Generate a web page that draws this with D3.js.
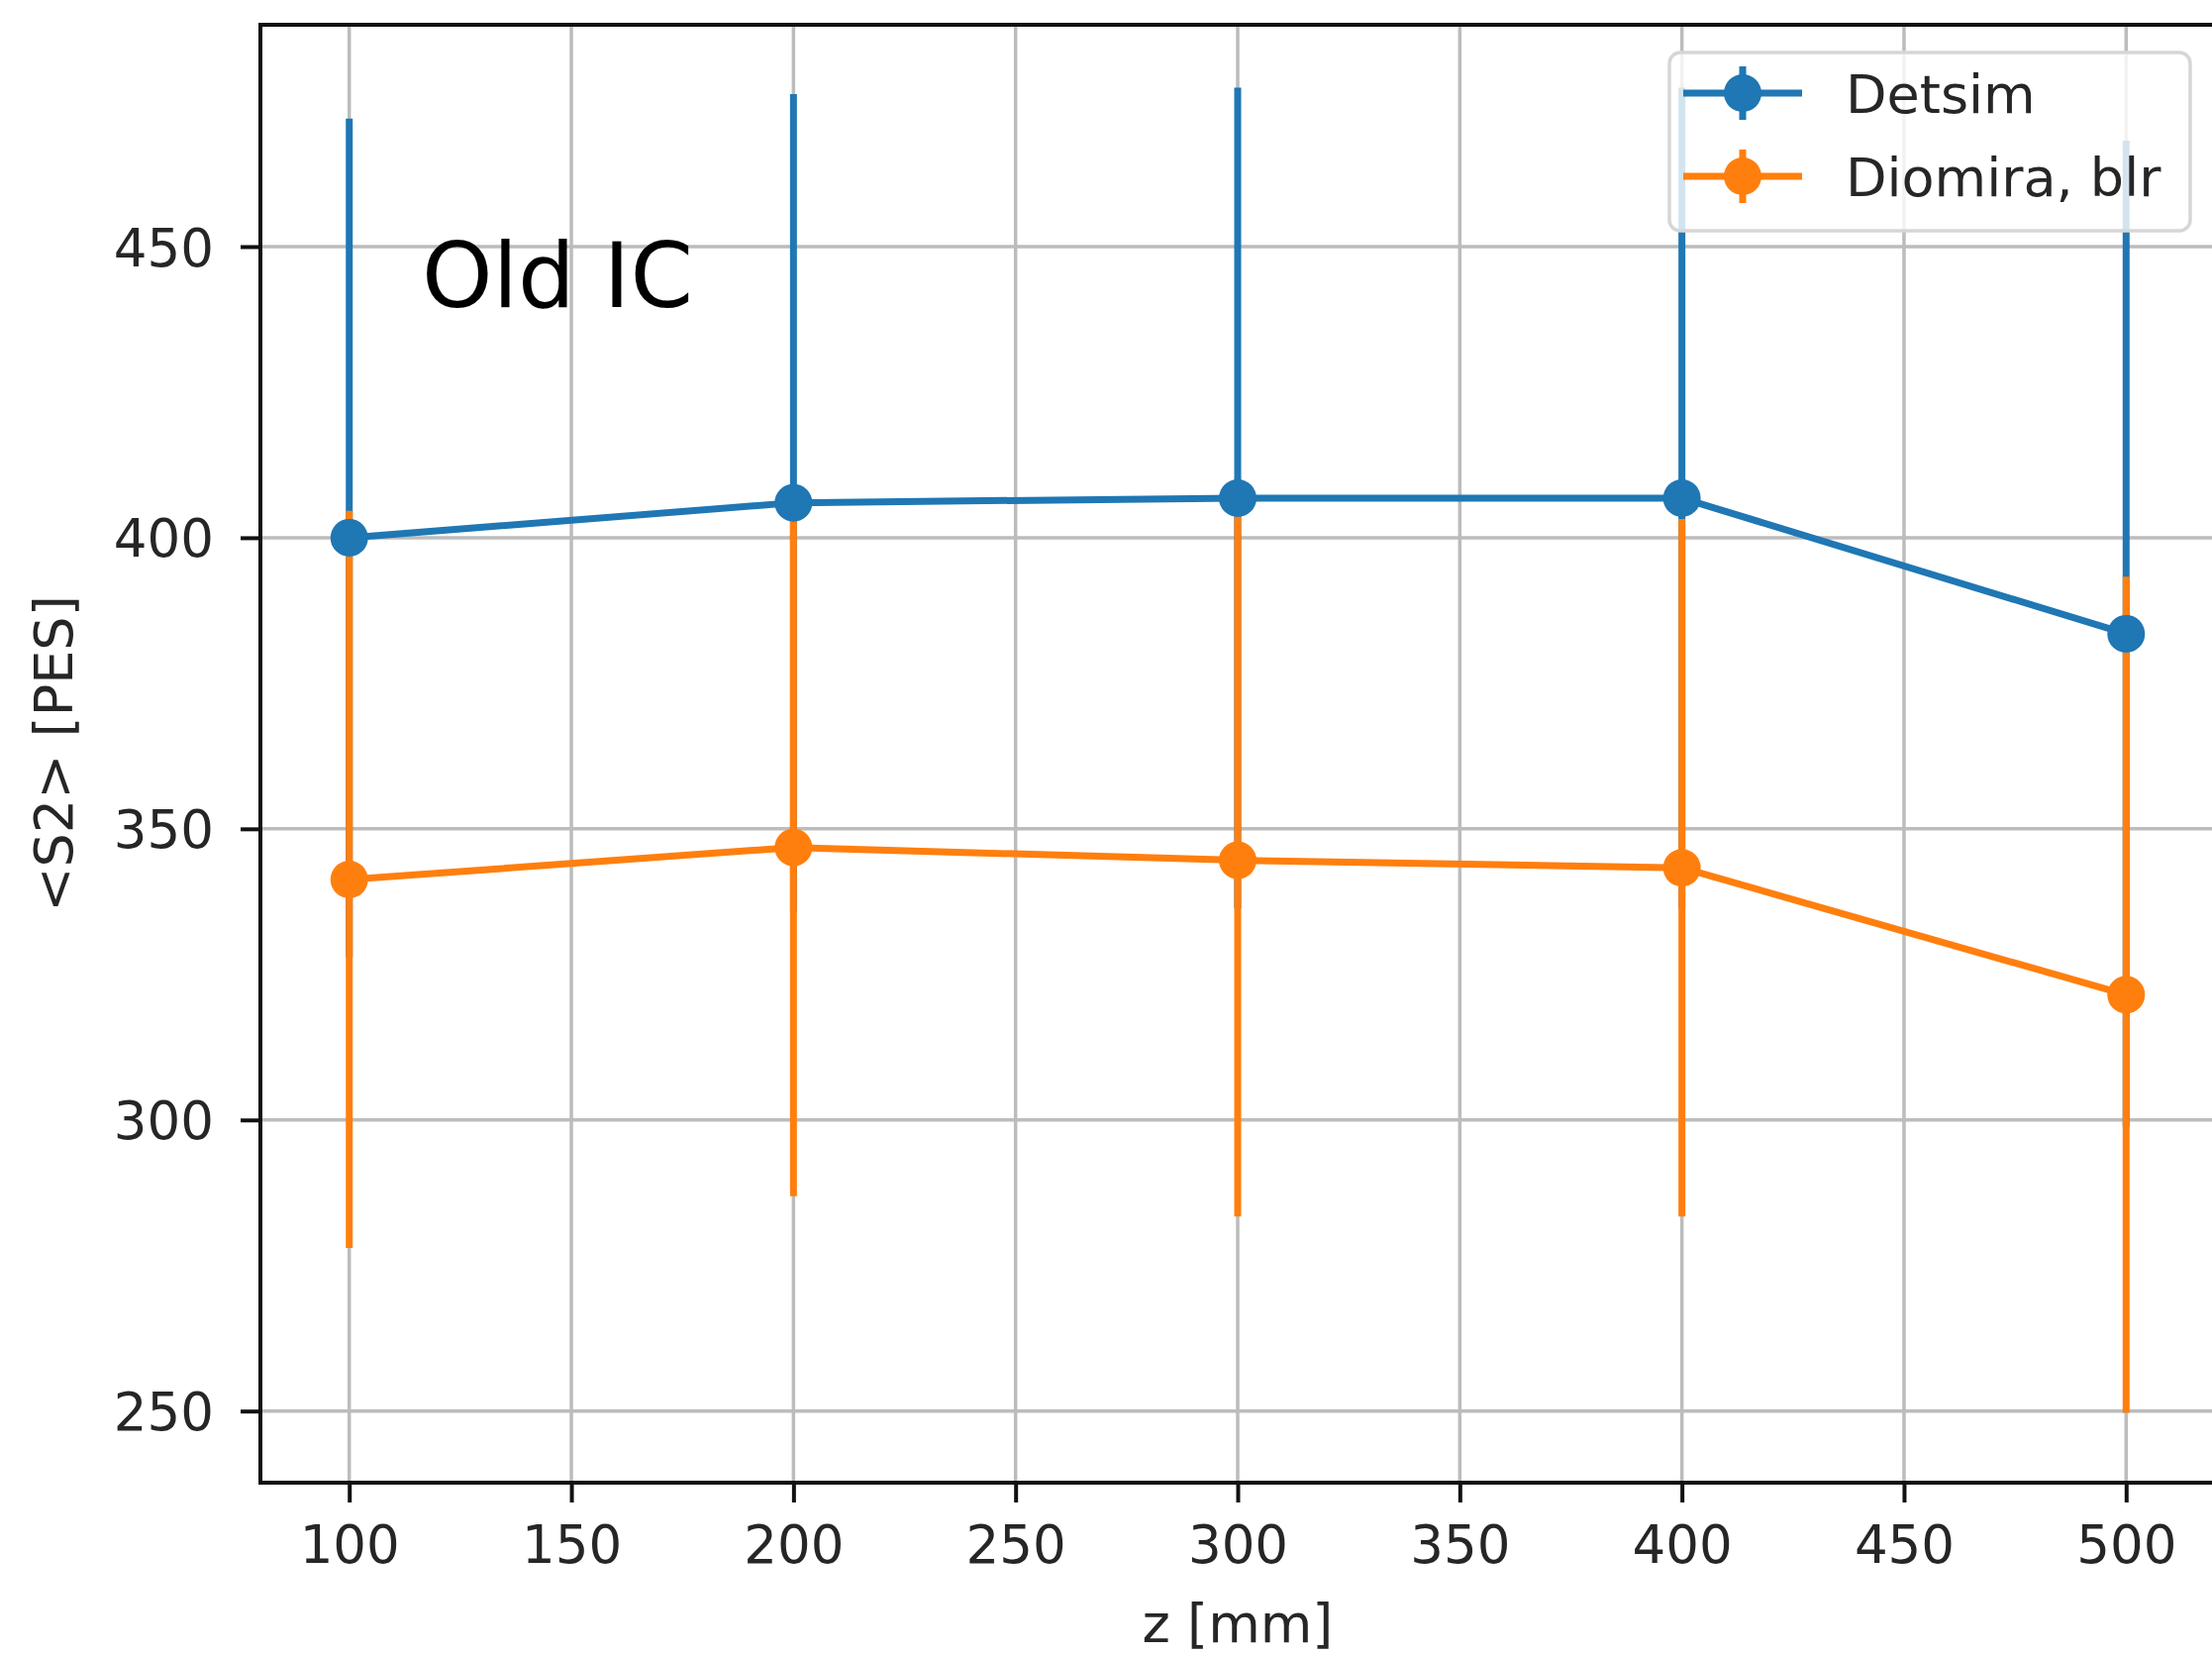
<!DOCTYPE html>
<html>
<head>
<meta charset="utf-8">
<script src="https://cdn.jsdelivr.net/npm/d3@7"></script>
<style>
  html, body { margin: 0; padding: 0; background: #ffffff; }
  svg { display: block; }
  text { font-family: "DejaVu Sans", sans-serif; fill: #262626; }
</style>
</head>
<body>
<script>
// ---------------- data ----------------
const zValues = [100, 200, 300, 400, 500];
const seriesNames = ["Detsim", "Diomira, blr"];
const detsimValues = [400.0, 406.0, 406.8, 406.8, 383.5];
const detsimErrors = [72.0, 70.2, 70.5, 70.5, 84.7];
const diomiraValues = [341.3, 346.8, 344.6, 343.3, 321.5];
const diomiraErrors = [63.3, 59.9, 61.2, 59.9, 71.8];
const xTickValues = [100, 150, 200, 250, 300, 350, 400, 450, 500];
const yTickValues = [250, 300, 350, 400, 450];
const xAxisLabel = "z [mm]";
const yAxisLabel = "<S2> [PES]";
const annotationText = "Old IC";

// ---------------- layout ----------------
const W = 2234, H = 1671;
const plot = { left: 263, right: 2237, top: 25, bottom: 1497 };
const colors = ["#1f77b4", "#ff7f0e"];
const fs = 53;

const series = [
  { name: seriesNames[0], values: detsimValues, errors: detsimErrors, color: colors[0] },
  { name: seriesNames[1], values: diomiraValues, errors: diomiraErrors, color: colors[1] }
];

const x = d3.scaleLinear().domain([80, 520]).range([plot.left, plot.right]);
const y = d3.scaleLinear().domain([237.7, 488.1]).range([plot.bottom, plot.top]);

const svg = d3.select("body").append("svg")
  .attr("width", W).attr("height", H)
  .attr("viewBox", `0 0 ${W} ${H}`);

svg.append("rect").attr("width", W).attr("height", H).attr("fill", "#ffffff");

// gridlines
const grid = svg.append("g");
grid.selectAll("line.gx").data(xTickValues).join("line")
  .attr("x1", d => x(d)).attr("x2", d => x(d))
  .attr("y1", plot.top).attr("y2", plot.bottom)
  .attr("stroke", "#bcbcbc").attr("stroke-width", 3.5);
grid.selectAll("line.gy").data(yTickValues).join("line")
  .attr("x1", plot.left).attr("x2", plot.right)
  .attr("y1", d => y(d)).attr("y2", d => y(d))
  .attr("stroke", "#bcbcbc").attr("stroke-width", 3.5);

// error bars (all below lines)
series.forEach(s => {
  svg.append("g").selectAll("line").data(zValues).join("line")
    .attr("x1", d => x(d)).attr("x2", d => x(d))
    .attr("y1", (d, i) => y(s.values[i] - s.errors[i]))
    .attr("y2", (d, i) => y(s.values[i] + s.errors[i]))
    .attr("stroke", s.color).attr("stroke-width", 7);
});

// lines + markers
const lineGen = d3.line().x(d => x(d[0])).y(d => y(d[1]));
series.forEach(s => {
  const pts = zValues.map((z, i) => [z, s.values[i]]);
  const g = svg.append("g");
  g.append("path").attr("d", lineGen(pts))
    .attr("fill", "none").attr("stroke", s.color).attr("stroke-width", 7)
    .attr("stroke-linejoin", "round");
  g.selectAll("circle").data(pts).join("circle")
    .attr("cx", d => x(d[0])).attr("cy", d => y(d[1]))
    .attr("r", 19).attr("fill", s.color);
});

// annotation
svg.append("text").attr("x", 426).attr("y", 310)
  .attr("font-size", 91).style("fill", "#000")
  .text(annotationText);

// spines
const spines = svg.append("g").attr("stroke", "#111").attr("stroke-width", 4).attr("fill", "none");
spines.append("rect").attr("x", plot.left).attr("y", plot.top)
  .attr("width", plot.right - plot.left).attr("height", plot.bottom - plot.top);

// axes
const xAxis = d3.axisBottom(x).tickValues(xTickValues).tickSize(20).tickPadding(22).tickFormat(d3.format("d"));
const yAxis = d3.axisLeft(y).tickValues(yTickValues).tickSize(20).tickPadding(27).tickFormat(d3.format("d"));

const gx = svg.append("g").attr("transform", `translate(0,${plot.bottom})`).call(xAxis);
const gy = svg.append("g").attr("transform", `translate(${plot.left},0)`).call(yAxis);
[gx, gy].forEach(g => {
  g.select(".domain").remove();
  g.selectAll(".tick line").attr("stroke", "#111").attr("stroke-width", 4);
  g.selectAll(".tick text").attr("font-size", fs).attr("font-family", "DejaVu Sans")
    .attr("fill", "#262626");
});
gx.selectAll(".tick text").attr("dy", null).attr("y", 81);
gy.selectAll(".tick text").attr("dy", "0.36em");

// axis labels
svg.append("text").attr("x", (plot.left + plot.right) / 2).attr("y", 1658)
  .attr("text-anchor", "middle").attr("font-size", fs + 1).text(xAxisLabel);
svg.append("text")
  .attr("transform", `translate(73,${(plot.top + plot.bottom) / 2}) rotate(-90)`)
  .attr("text-anchor", "middle").attr("font-size", fs + 1).text(yAxisLabel);

// legend
const leg = svg.append("g");
leg.append("rect").attr("x", 1686).attr("y", 53).attr("width", 526).attr("height", 180)
  .attr("rx", 11).attr("ry", 11)
  .attr("fill", "#ffffff").attr("fill-opacity", 0.8)
  .attr("stroke", "#d6d6d6").attr("stroke-width", 3.5);
const legY = d3.scaleOrdinal().domain(seriesNames).range([94, 178]);
series.forEach(s => {
  const cy = legY(s.name);
  leg.append("line").attr("x1", 1700).attr("x2", 1820).attr("y1", cy).attr("y2", cy)
    .attr("stroke", s.color).attr("stroke-width", 7);
  leg.append("line").attr("x1", 1760).attr("x2", 1760).attr("y1", cy - 27).attr("y2", cy + 27)
    .attr("stroke", s.color).attr("stroke-width", 7);
  leg.append("circle").attr("cx", 1760).attr("cy", cy).attr("r", 19).attr("fill", s.color);
  leg.append("text").attr("x", 1864).attr("y", cy + 0.364 * 54)
    .attr("font-size", 54).text(s.name);
});
</script>
</body>
</html>
